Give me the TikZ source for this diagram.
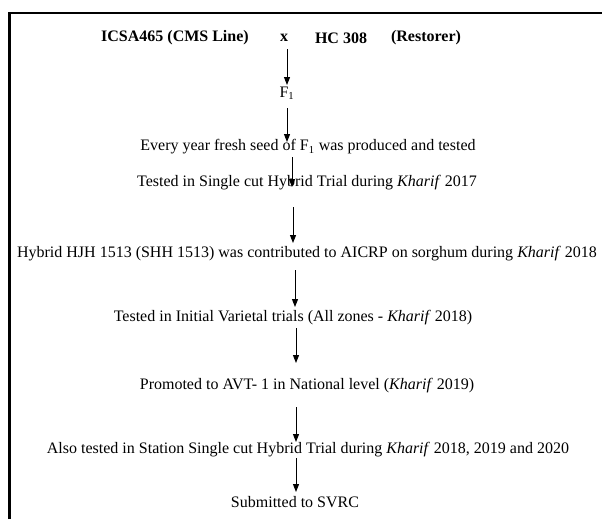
\documentclass[tikz,border=0pt]{standalone}
\usepackage{fontspec}
\setmainfont{Liberation Serif}
\usetikzlibrary{positioning,arrows.meta,calc}

\begin{document}
\begin{tikzpicture}[x=0.75pt,y=-0.75pt,
  txt/.style={inner sep=0pt, font=\fontsize{12}{14}\selectfont},
  hd/.style={inner sep=0pt, font=\fontsize{12}{14}\selectfont\bfseries},
  arr/.style={line width=0.75pt, -{Triangle[length=6pt,width=4.5pt]}},
  ]
  \useasboundingbox (0,0) rectangle (602,519);
  \draw[line width=2pt] (9.5,519) -- (9.5,13) -- (602,13);
  % parents
  \node[hd] (cms) at (175,38) {ICSA465 (CMS Line)};
  \node[hd] (cross) at (284,38) {x};
  \node[hd] (hc) at (341,38) {HC 308};
  \node[hd] (rest) at (426,38) {(Restorer)};
  % steps
  \node[txt] (f1) at (287,93) {F\textsubscript{1}};
  \node[txt] (every) at (308,147) {Every year fresh seed of F\textsubscript{1} was produced and tested};
  \node[txt] (single) at (307,183) {Tested in Single cut Hybrid Trial during \textit{Kharif} 2017};
  \node[txt] (hybrid) at (307,254) {Hybrid HJH 1513 (SHH 1513) was contributed to AICRP on sorghum during \textit{Kharif} 2018};
  \node[txt] (ivt) at (293,318) {Tested in Initial Varietal trials (All zones - \textit{Kharif} 2018)};
  \node[txt] (avt) at (307,386) {Promoted to AVT- 1 in National level (\textit{Kharif} 2019)};
  \node[txt] (station) at (308,450) {Also tested in Station Single cut Hybrid Trial during \textit{Kharif} 2018, 2019 and 2020};
  \node[txt] (svrc) at (295,502) {Submitted to SVRC};
  % arrows
  \draw[arr] ($(cross)+(3,11)$) -- ($(f1)+(0,-8)$);
  \draw[arr] ($(f1)+(0,15)$) -- ($(f1 |- every)+(0,-5)$);
  \draw[arr] ($(every)+(-16,10)$) -- ($(every |- single)+(-16,4)$);
  \draw[arr] ($(single)+(-14,24)$) -- ($(single |- hybrid)+(-14,-11)$);
  \draw[arr] ($(hybrid)+(-12,16)$) -- ($(hybrid |- ivt)+(-12,-11)$);
  \draw[arr] ($(ivt)+(3,10)$) -- ($(ivt |- avt)+(3,-23)$);
  \draw[arr] ($(avt)+(-11,21)$) -- ($(avt |- station)+(-11,-8)$);
  \draw[arr] ($(station)+(-12,8)$) -- ($(station |- svrc)+(-12,-10)$);
\end{tikzpicture}
\end{document}
